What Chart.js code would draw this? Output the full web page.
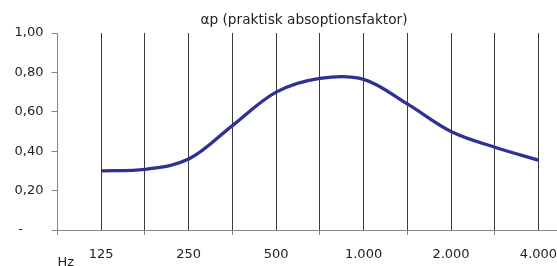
<!DOCTYPE html>
<html>
<head>
<meta charset="utf-8">
<script src="https://cdn.jsdelivr.net/npm/chart.js@4/dist/chart.umd.min.js"></script>
<style>
  html, body { margin: 0; padding: 0; background: #fff; overflow: hidden; width: 557px; height: 266px; }
  #wrap { position: absolute; left: 0; top: 0; width: 608px; height: 280px; }
</style>
</head>
<body>
<div id="wrap"><canvas id="c"></canvas></div>
<script>
// Frequency positions (every line is one data point; labels on every other one)
const categories = ['125', '', '250', '', '500', '', '1.000', '', '2.000', '', '4.000'];
// αp values
const alphaP = [0.30, 0.308, 0.36, 0.53, 0.70, 0.77, 0.765, 0.64, 0.50, 0.42, 0.355];
const yTickValues = [0, 0.2, 0.4, 0.6, 0.8, 1.0];
const chartTitle = 'αp (praktisk absoptionsfaktor)';
const xUnit = 'Hz';

const points = alphaP.map((v, i) => ({ x: i, y: v }));
const FONT = "'DejaVu Sans'";

new Chart(document.getElementById('c'), {
  type: 'line',
  data: {
    datasets: [{
      data: points,
      borderColor: '#2E3192',
      borderWidth: 3.3,
      pointRadius: 0,
      tension: 0.35,
      fill: false
    }]
  },
  options: {
    responsive: true,
    maintainAspectRatio: false,
    animation: false,
    devicePixelRatio: 1,
    layout: { padding: 0 },
    plugins: {
      legend: { display: false },
      tooltip: { enabled: false },
      title: {
        display: true,
        text: chartTitle,
        color: '#222',
        font: { family: FONT, size: 13.7, weight: 'normal' },
        padding: { top: 12, bottom: 4.6 }
      }
    },
    scales: {
      x: {
        type: 'linear',
        min: -1,
        max: 11.59,
        afterBuildTicks: (s) => { s.ticks = []; for (let v = -1; v <= 10; v++) s.ticks.push({ value: v }); },
        afterFit: (s) => { s.height = 50; },
        border: { display: true, color: '#868686', width: 1 },
        grid: {
          display: true,
          drawOnChartArea: true,
          tickLength: 5,
          lineWidth: 1,
          color: (ctx) => (ctx.tick && ctx.tick.value >= 0 && ctx.tick.value <= 10) ? '#3a3a3a' : 'rgba(0,0,0,0)',
          tickColor: (ctx) => (ctx.tick && (ctx.tick.value === -1 || Math.abs(ctx.tick.value % 2) === 1)) ? '#868686' : 'rgba(0,0,0,0)'
        },
        ticks: {
          autoSkip: false,
          maxRotation: 0,
          color: '#222',
          font: { family: FONT, size: 13 },
          padding: 12,
          callback: (v) => (v >= 0 && v < categories.length) ? categories[v] : ''
        },
        title: {
          display: true,
          text: xUnit,
          align: 'start',
          color: '#222',
          font: { family: FONT, size: 13 },
          padding: { top: 0, bottom: 10 }
        }
      },
      y: {
        min: 0,
        max: 1,
        afterBuildTicks: (s) => { s.ticks = yTickValues.map(v => ({ value: v })); },
        afterFit: (s) => { s.width = 57.5; },
        border: { display: true, color: '#868686', width: 1 },
        grid: {
          display: true,
          drawOnChartArea: false,
          tickLength: 6,
          color: '#868686'
        },
        ticks: {
          color: '#222',
          font: { family: FONT, size: 13 },
          padding: 8,
          callback: (v) => v === 0 ? '-     ' : v.toFixed(2).replace('.', ',')
        }
      }
    }
  }
});
</script>
</body>
</html>
